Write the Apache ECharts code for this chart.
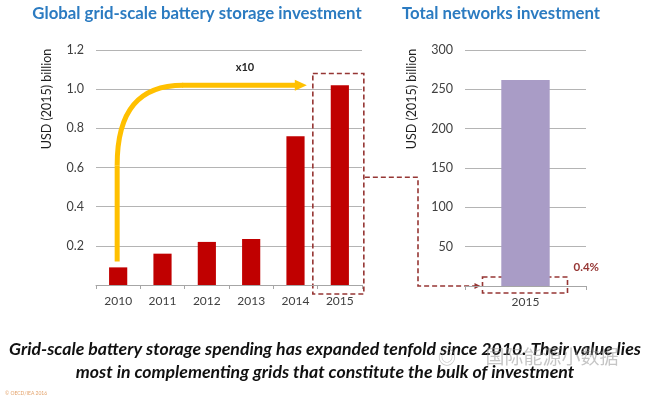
<!DOCTYPE html>
<html>
<head>
<meta charset="utf-8">
<script src="https://cdn.jsdelivr.net/npm/echarts@6/dist/echarts.min.js"></script>
<style>
  html, body { margin: 0; padding: 0; background: #fff; }
  #chart { width: 650px; height: 399px; }
</style>
</head>
<body>
<div id="chart"></div>
<script>
// data
const years = ['2010', '2011', '2012', '2013', '2014', '2015'];
const storageInvest = [0.09, 0.16, 0.22, 0.235, 0.76, 1.02];
const networkYears = ['2015'];
const networkInvest = [262];

const titleBlue = '#2b7bc1';
const darkRed = '#963634';
const axisFont = 'Lato, "Open Sans", sans-serif';

let chart = echarts.init(document.getElementById('chart'));

let option = {
    animation: false,
    title: [{
        text: 'Global grid-scale battery storage investment',
        left: 192,
        top: 0,
        textAlign: 'center',
        textStyle: { color: titleBlue, fontSize: 16.8, fontWeight: 'bold', fontFamily: axisFont }
    }, {
        text: 'Total networks investment',
        left: 496,
        top: 0,
        textAlign: 'center',
        textStyle: { color: titleBlue, fontSize: 16.8, fontWeight: 'bold', fontFamily: axisFont }
    }],
    grid: [
        { left: 96, right: 288, top: 50, bottom: 114 },
        { left: 465, right: 64, top: 50, bottom: 113 }
    ],
    xAxis: [{
        type: 'category',
        gridIndex: 0,
        data: years,
        axisLine: { lineStyle: { color: '#a6a6a6' } },
        axisTick: { show: true, length: 4, lineStyle: { color: '#a6a6a6' } },
        axisLabel: { color: '#404040', fontSize: 12, margin: 10, fontFamily: axisFont }
    }, {
        type: 'category',
        gridIndex: 1,
        data: networkYears,
        axisLine: { lineStyle: { color: '#a6a6a6' } },
        axisTick: { show: true, length: 4, lineStyle: { color: '#a6a6a6' } },
        axisLabel: { color: '#404040', fontSize: 12, margin: 10, fontFamily: axisFont }
    }],
    yAxis: [{
        type: 'value',
        gridIndex: 0,
        min: 0,
        max: 1.2,
        interval: 0.2,
        axisLine: { show: false },
        axisTick: { show: false },
        splitLine: { lineStyle: { color: '#b4b4b4' } },
        axisLabel: {
            color: '#404040', fontSize: 12.5, margin: 12, fontFamily: axisFont,
            formatter: function (v) { return v === 0 ? '' : v.toFixed(1); }
        }
    }, {
        type: 'value',
        gridIndex: 1,
        min: 0,
        max: 300,
        interval: 50,
        axisLine: { show: false },
        axisTick: { show: false },
        splitLine: { lineStyle: { color: '#b4b4b4' } },
        axisLabel: {
            color: '#404040', fontSize: 12.5, margin: 12, fontFamily: axisFont,
            formatter: function (v) { return v === 0 ? '' : v; }
        }
    }],
    series: [{
        type: 'bar',
        xAxisIndex: 0,
        yAxisIndex: 0,
        barWidth: '41%',
        itemStyle: { color: '#c00000' },
        data: storageInvest
    }, {
        type: 'bar',
        xAxisIndex: 1,
        yAxisIndex: 1,
        barWidth: '40%',
        itemStyle: { color: '#a99cc6' },
        data: networkInvest
    }]
};

chart.setOption(option);

// annotation anchors from the axes
const p0 = (x, y) => chart.convertToPixel({ xAxisIndex: 0, yAxisIndex: 0 }, [x, y]);
const p1 = (x, y) => chart.convertToPixel({ xAxisIndex: 1, yAxisIndex: 1 }, [x, y]);

const a2010 = p0('2010', 0.12);
const a2015 = p0('2015', 1.02);
const axisL = p0('2015', 0)[1];
const boxTop = p0('2015', 1.08)[1];
const linkY = p0('2015', 0.55)[1];
const n2015 = p1('2015', 0);
const axisR = n2015[1];

const ax = a2010[0] - 1;
const hy = a2015[1];
const tipX = a2015[0] - 33;
const bendX = ax + 66;

const dashStyle = { stroke: darkRed, lineWidth: 1.6, lineDash: [5, 3], fill: null };
const arrowStyle = { stroke: '#ffc000', lineWidth: 5, fill: null };

chart.setOption({
    graphic: [
        // yellow curved arrow
        {
            type: 'line',
            shape: { x1: ax, y1: a2010[1], x2: ax, y2: hy + 80 },
            style: arrowStyle
        },
        {
            type: 'bezierCurve',
            shape: { x1: ax, y1: hy + 80, cpx1: ax, cpy1: hy + 25, cpx2: ax + 22, cpy2: hy, x2: bendX, y2: hy },
            style: arrowStyle
        },
        {
            type: 'line',
            shape: { x1: bendX - 1, y1: hy, x2: tipX - 10, y2: hy },
            style: arrowStyle
        },
        {
            type: 'polygon',
            shape: { points: [[tipX - 12, hy - 5.5], [tipX, hy], [tipX - 12, hy + 5.5]] },
            style: { fill: '#ffc000' }
        },
        {
            type: 'text',
            x: 245, y: hy - 18,
            style: { text: 'x10', fill: '#262626', font: 'bold 11px ' + axisFont, align: 'center', verticalAlign: 'middle' }
        },
        // dashed box around 2015 storage bar
        {
            type: 'rect',
            shape: { x: a2015[0] - 27, y: boxTop, width: 51, height: axisL + 9 - boxTop },
            style: dashStyle
        },
        // connector to network chart
        {
            type: 'polyline',
            shape: { points: [[a2015[0] + 25, linkY], [418, linkY], [418, axisR], [n2015[0] - 47, axisR]] },
            style: dashStyle
        },
        {
            type: 'polygon',
            shape: { points: [[n2015[0] - 51, axisR - 3], [n2015[0] - 45, axisR], [n2015[0] - 51, axisR + 3]] },
            style: { fill: darkRed }
        },
        {
            type: 'rect',
            shape: { x: n2015[0] - 43, y: axisR - 9, width: 85, height: 16 },
            style: dashStyle
        },
        {
            type: 'text',
            x: n2015[0] + 48, y: axisR - 19,
            style: { text: '0.4%', fill: darkRed, font: 'bold 11.5px ' + axisFont, align: 'left', verticalAlign: 'middle' }
        },
        // axis names
        {
            type: 'text',
            x: 47, y: 99, rotation: Math.PI / 2,
            style: { text: 'USD (2015) billion', fill: '#1f1f1f', font: '12.5px ' + axisFont, align: 'center', verticalAlign: 'middle' }
        },
        {
            type: 'text',
            x: 412, y: 99, rotation: Math.PI / 2,
            style: { text: 'USD (2015) billion', fill: '#1f1f1f', font: '12.5px ' + axisFont, align: 'center', verticalAlign: 'middle' }
        },
        // caption
        {
            type: 'text',
            x: 325, y: 349,
            style: {
                text: 'Grid-scale battery storage spending has expanded tenfold since 2010. Their value lies',
                fill: '#111', font: 'italic bold 17.7px ' + axisFont, align: 'center', verticalAlign: 'middle'
            }
        },
        {
            type: 'text',
            x: 325, y: 372,
            style: {
                text: 'most in complementing grids that constitute the bulk of investment',
                fill: '#111', font: 'italic bold 17.7px ' + axisFont, align: 'center', verticalAlign: 'middle'
            }
        },
        // watermark
        {
            type: 'text',
            x: 447, y: 357,
            style: { text: '◎', fill: 'rgba(150,150,150,0.55)', font: '18px "Noto Sans CJK SC"', align: 'center', verticalAlign: 'middle' }
        },
        {
            type: 'text',
            x: 552, y: 357,
            style: { text: '国际能源小数据', fill: 'rgba(150,150,150,0.55)', font: '19px "Noto Sans CJK SC"', align: 'center', verticalAlign: 'middle' }
        },
        {
            type: 'text',
            x: 5, y: 393,
            style: { text: '© OECD/IEA 2016', fill: '#e3a26a', font: '5px ' + axisFont, align: 'left', verticalAlign: 'middle' }
        }
    ]
});
</script>
</body>
</html>
